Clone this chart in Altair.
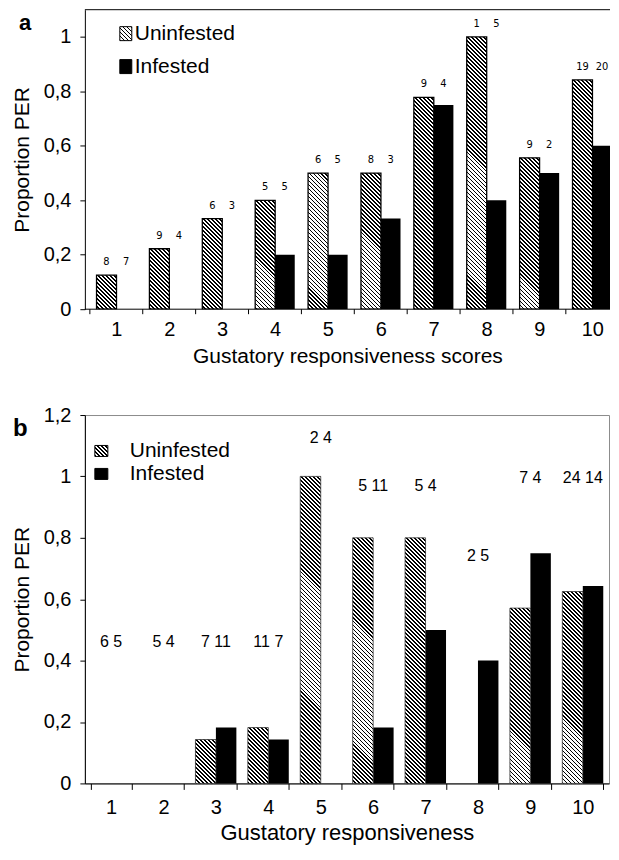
import math
import altair as alt
import pandas as pd

# ---------------- data ----------------
scores = [1, 2, 3, 4, 5, 6, 7, 8, 9, 10]
groups = ["Uninfested", "Infested"]

a_uninfested = [0.125, 0.222, 0.333, 0.4, 0.5, 0.5, 0.778, 1.0, 0.556, 0.842]
a_infested = [0.0, 0.0, 0.0, 0.2, 0.2, 0.333, 0.75, 0.4, 0.5, 0.6]
a_n_uninfested = [8, 9, 6, 5, 6, 8, 9, 1, 9, 19]
a_n_infested = [7, 4, 3, 5, 5, 3, 4, 5, 2, 20]

b_uninfested = [0.0, 0.0, 0.143, 0.182, 1.0, 0.8, 0.8, 0.0, 0.571, 0.625]
b_infested = [0.0, 0.0, 0.182, 0.143, 0.0, 0.182, 0.5, 0.4, 0.75, 0.643]
b_n_uninfested = [6, 5, 7, 11, 2, 5, 5, 2, 7, 24]
b_n_infested = [5, 4, 11, 7, 4, 11, 4, 5, 4, 14]
b_label_level = [0.46, 0.46, 0.46, 0.46, 1.125, 0.97, 0.97, 0.74, 0.995, 0.995]

a_ticks = [0, 0.2, 0.4, 0.6, 0.8, 1.0]
b_ticks = [0, 0.2, 0.4, 0.6, 0.8, 1.0, 1.2]

# ---------------- style ----------------
FONT = "Liberation Sans, Arial, Helvetica, sans-serif"
NARROW = "Liberation Sans Narrow, Arial Narrow, DejaVu Sans Condensed, sans-serif"
LABEL_EXPR = "replace(format(datum.value, '~g'), '.', ',')"

A_W, A_H, A_MAX, A_STEP, A_BAR = 526, 300, 1.1, 54.0, 20
B_W, B_H, B_MAX, B_BAR = 525, 369, 1.2, 20.5
TILE_PX, PERIOD, LINE = 400, 4.0, 1.8   # one hatch tile per bar, clipped by the plot area
A_HALF = (A_BAR / 2) / A_STEP          # half a bar, in category units
A_XMAX = 0.5 + A_W / A_STEP            # panel a is cut at the right, as in the figure


def hatch(w, h, period=PERIOD, line=LINE):
    """Diagonal (\\) stripes for a w x h box, as a linear gradient."""
    L = w + h
    c = (w + h) / (w * w + h * h)
    stops = []
    pos = 0.0
    while pos < L - 1e-9:
        a = pos / L
        b = min(pos + line, L) / L
        e = min(pos + period, L) / L
        stops += [
            alt.GradientStop(offset=a, color="black"),
            alt.GradientStop(offset=b, color="black"),
            alt.GradientStop(offset=b, color="white"),
            alt.GradientStop(offset=e, color="white"),
        ]
        pos += period
    return alt.LinearGradient(gradient="linear", x1=0, y1=1, x2=c * w, y2=1 - c * h, stops=stops)


def long_df(u, i, nu, ni):
    rows = []
    for s, a, b, na, nb in zip(scores, u, i, nu, ni):
        rows.append({"score": s, "group": "Uninfested", "value": a, "n": na})
        rows.append({"score": s, "group": "Infested", "value": b, "n": nb})
    return pd.DataFrame(rows)


def tiles_df(values, ymax, height):
    d = TILE_PX * ymax / height
    rows = []
    for s, v in zip(scores, values):
        if v <= 0:
            continue
        n = math.ceil(v / d - 1e-9)
        for k in range(n):
            rows.append({"score": s, "group": "Uninfested", "top": v - k * d, "bot": v - (k + 1) * d})
    return pd.DataFrame(rows)


def legend_layers(x_sw, w_sw, h_sw, ys, x_txt, fsize, grad):
    out = []
    for label, yc, fill in zip(groups, ys, [grad, "black"]):
        d = pd.DataFrame({"label": [label]})
        out.append(
            alt.Chart(d).mark_rect(fill=fill, stroke="black", strokeWidth=1).encode(
                x=alt.value(x_sw), x2=alt.value(x_sw + w_sw),
                y=alt.value(yc - h_sw / 2), y2=alt.value(yc + h_sw / 2),
            )
        )
        out.append(
            alt.Chart(d).mark_text(align="left", baseline="middle", fontSize=fsize, font=FONT, color="black").encode(
                text="label:N", x=alt.value(x_txt), y=alt.value(yc)
            )
        )
    return out


def letter(t, x, y, size):
    return alt.Chart(pd.DataFrame({"t": [t]})).mark_text(
        align="left", baseline="alphabetic", fontSize=size, fontWeight="bold", font=FONT, color="black"
    ).encode(text="t:N", x=alt.value(x), y=alt.value(y))


# ---------------- panel a (continuous x so the last category can run off the edge) ----------------
df_a = long_df(a_uninfested, a_infested, a_n_uninfested, a_n_infested)
tiles_a = tiles_df(a_uninfested, A_MAX, A_H)
side_expr = f"datum.score + (datum.group == 'Uninfested' ? -{A_HALF} : {A_HALF})"

xa_scale = alt.Scale(domain=[0.5, A_XMAX], nice=False, zero=False)
ya_scale = alt.Scale(domain=[0, A_MAX], nice=False, zero=True)

xa_axis = alt.Axis(
    title="Gustatory responsiveness scores", values=scores, format="d", labelAngle=0,
    domain=False, ticks=False, tickSize=5, labelPadding=10, labelFontSize=20, labelFlush=False,
    labelOverlap=False, titleFontSize=21, titlePadding=6, titleFontWeight="normal",
    labelColor="black", titleColor="black",
)
ya_axis = alt.Axis(
    title="Proportion PER", values=a_ticks, labelExpr=LABEL_EXPR, tickSize=5, labelPadding=9,
    labelFontSize=20, titleFontSize=21, titlePadding=11, titleFontWeight="normal",
    domainColor="black", tickColor="black", labelColor="black", titleColor="black",
)

a_inf = alt.Chart(df_a).transform_filter("datum.group == 'Infested' && datum.value > 0").transform_calculate(
    xpos=side_expr
).mark_bar(color="black", width=A_BAR, clip=True).encode(
    x=alt.X("xpos:Q", scale=xa_scale, axis=xa_axis),
    y=alt.Y("value:Q", scale=ya_scale, axis=ya_axis),
)

a_hatch = alt.Chart(tiles_a).transform_calculate(xpos=side_expr).mark_bar(
    fill=hatch(A_BAR, TILE_PX), strokeWidth=0, width=A_BAR, clip=True
).encode(
    x=alt.X("xpos:Q", scale=xa_scale),
    y=alt.Y("top:Q", scale=ya_scale), y2="bot:Q",
)

a_outline = alt.Chart(df_a).transform_filter("datum.group == 'Uninfested' && datum.value > 0").transform_calculate(
    xpos=side_expr
).mark_bar(fillOpacity=0, stroke="black", strokeWidth=1.3, width=A_BAR, clip=True).encode(
    x=alt.X("xpos:Q", scale=xa_scale), y=alt.Y("value:Q", scale=ya_scale)
)

a_labels = alt.Chart(df_a).transform_joinaggregate(top="max(value)", groupby=["score"]).transform_calculate(
    xpos=side_expr
).mark_text(dy=-13, baseline="middle", fontSize=11, font=NARROW, color="black", clip=True).encode(
    x=alt.X("xpos:Q", scale=xa_scale), y=alt.Y("top:Q", scale=ya_scale), text="n:N"
)

a_frame = alt.Chart(pd.DataFrame({"edge": [0, A_MAX]})).mark_rule(color="black", strokeWidth=1).encode(
    y=alt.Y("edge:Q", scale=ya_scale)
)

a_xticks = alt.Chart(pd.DataFrame({"score": scores})).transform_calculate(
    edge="datum.score - 0.5"
).mark_rule(color="black", strokeWidth=1).encode(
    x=alt.X("edge:Q", scale=xa_scale), y=alt.value(A_H), y2=alt.value(A_H + 5)
)

panel_a = alt.layer(
    a_inf, a_hatch, a_outline, a_labels, a_frame, a_xticks,
    *legend_layers(35, 12, 14, [24, 57], 50, 21, hatch(12, 14, 4.0, 1.8)),
    letter("a", -66, 20, 22),
).properties(width=A_W, height=A_H, view=alt.ViewBackground(stroke="transparent"))

# ---------------- panel b ----------------
df_b = long_df(b_uninfested, b_infested, b_n_uninfested, b_n_infested)
tiles_b = tiles_df(b_uninfested, B_MAX, B_H)
lab_b = pd.DataFrame({
    "score": scores,
    "level": b_label_level,
    "text": [f"{u} {i}" for u, i in zip(b_n_uninfested, b_n_infested)],
})

off_scale = alt.Scale(domain=groups, paddingInner=0, paddingOuter=0)
xoff = alt.XOffset("group:N", scale=off_scale)
xb_scale = alt.Scale(paddingInner=0.219, paddingOuter=0.1095)
yb_scale = alt.Scale(domain=[0, B_MAX], nice=False, zero=True)

xb_axis = alt.Axis(
    title="Gustatory responsiveness", labelAngle=0, tickBand="extent", tickSize=6, labelPadding=8,
    labelFontSize=20, titleFontSize=22, titlePadding=5, titleFontWeight="normal",
    domainColor="black", tickColor="black", labelColor="black", titleColor="black",
)
yb_axis = alt.Axis(
    title="Proportion PER", values=b_ticks, labelExpr=LABEL_EXPR, tickSize=5, labelPadding=9,
    labelFontSize=20, titleFontSize=21, titlePadding=11, titleFontWeight="normal",
    domainColor="black", tickColor="black", labelColor="black", titleColor="black",
)

b_inf = alt.Chart(df_b).transform_filter("datum.group == 'Infested' && datum.value > 0").mark_bar(
    color="black", width=B_BAR
).encode(
    x=alt.X("score:O", scale=xb_scale, axis=xb_axis), xOffset=xoff,
    y=alt.Y("value:Q", scale=yb_scale, axis=yb_axis),
)

b_hatch = alt.Chart(tiles_b).mark_bar(fill=hatch(B_BAR, TILE_PX), strokeWidth=0, width=B_BAR, clip=True).encode(
    x=alt.X("score:O", scale=xb_scale), xOffset=xoff,
    y=alt.Y("top:Q", scale=yb_scale), y2="bot:Q",
)

b_outline = alt.Chart(df_b).transform_filter("datum.group == 'Uninfested' && datum.value > 0").mark_bar(
    fillOpacity=0, stroke="#333333", strokeWidth=0.8, width=B_BAR
).encode(x=alt.X("score:O", scale=xb_scale), xOffset=xoff, y=alt.Y("value:Q", scale=yb_scale))

b_labels = alt.Chart(lab_b).mark_text(baseline="middle", fontSize=16, font=FONT, color="black").encode(
    x=alt.X("score:O", scale=xb_scale), y=alt.Y("level:Q", scale=yb_scale), text="text:N"
)

panel_b = alt.layer(
    b_inf, b_hatch, b_outline, b_labels,
    *legend_layers(10, 13, 11, [36, 59], 45, 21, hatch(13, 11, 4.0, 1.8)),
    letter("b", -72, 21, 24),
).properties(width=B_W, height=B_H, view=alt.ViewBackground(stroke="#8c8c8c"))

chart = alt.vconcat(panel_a, panel_b, spacing=37).properties(
    padding={"left": 2, "top": 0, "right": 0, "bottom": 0}
).configure_axis(
    labelFont=FONT, titleFont=FONT, grid=False
).configure_view(stroke="transparent")

chart.save("out.html", embed_options={"renderer": "svg", "actions": False})
